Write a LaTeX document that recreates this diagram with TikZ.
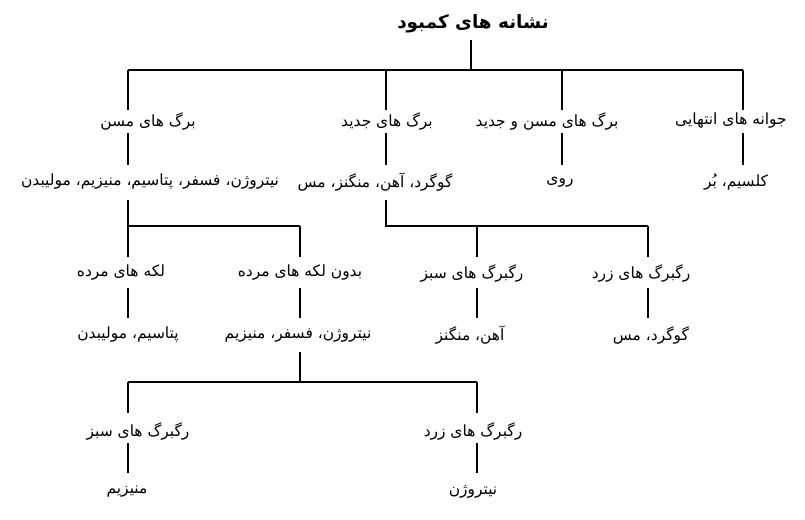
\documentclass[tikz,border=0pt]{standalone}
\usepackage{fontspec}
\TeXXeTstate=1
\newfontfamily\arabicfont[Script=Arabic]{DejaVu Sans}
\begin{document}
\begin{tikzpicture}[x=0.75pt,y=-0.75pt,
  lbl/.style={inner sep=0pt,font=\arabicfont\fontsize{11.6}{13}\selectfont},
  elem/.style={lbl},
  ttl/.style={inner sep=0pt,font=\arabicfont\bfseries\fontsize{13.8}{16}\selectfont},
  conn/.style={draw=black,line width=0.8pt}]
\useasboundingbox[fill=white] (0,0) rectangle (805,520);
% texts
\node[ttl] (title) at (473,24) {\beginR نشانه های کمبود\endR};
\node[lbl] (l1a) at (148,121) {\beginR برگ های مسن\endR};
\node[lbl] (l1b) at (387,121) {\beginR برگ های جدید\endR};
\node[lbl] (l1c) at (547,121) {\beginR برگ های مسن و جدید\endR};
\node[lbl] (l1d) at (731,121) {\beginR جوانه های انتهایی\endR};
\node[elem] (l2a) at (150,182) {\beginR نیتروژن، فسفر، پتاسیم، منیزیم، مولیبدن\endR};
\node[elem] (l2b) at (375,182) {\beginR گوگرد، آهن، منگنز، مس\endR};
\node[elem] (l2c) at (560,182) {\beginR روی\endR};
\node[elem] (l2d) at (736,182) {\beginR کلسیم، بُر\endR};
\node[lbl] (l3a) at (121,273) {\beginR لکه های مرده\endR};
\node[lbl] (l3b) at (300,273) {\beginR بدون لکه های مرده\endR};
\node[lbl] (l3c) at (472,273) {\beginR رگبرگ های سبز\endR};
\node[lbl] (l3d) at (641,273) {\beginR رگبرگ های زرد\endR};
\node[elem] (l4a) at (128,335) {\beginR پتاسیم، مولیبدن\endR};
\node[elem] (l4b) at (298,335) {\beginR نیتروژن، فسفر، منیزیم\endR};
\node[elem] (l4c) at (470,335) {\beginR آهن، منگنز\endR};
\node[elem] (l4d) at (651,335) {\beginR گوگرد، مس\endR};
\node[lbl] (l5a) at (138,431) {\beginR رگبرگ های سبز\endR};
\node[lbl] (l5b) at (473,431) {\beginR رگبرگ های زرد\endR};
\node[elem] (l6a) at (127,492) {\beginR منیزیم\endR};
\node[elem] (l6b) at (473,492) {\beginR نیتروژن\endR};
% connector end points
\coordinate (tA) at (471,40);  \coordinate (tB) at (471,70);
\coordinate (hL) at (128,70);  \coordinate (hR) at (743,70);
\foreach \n/\x in {a/128,b/386,c/562,d/743}{
  \coordinate (u1\n) at (\x,70);  \coordinate (d1\n) at (\x,110);
  \coordinate (u2\n) at (\x,133); \coordinate (d2\n) at (\x,165);}
\coordinate (s2a) at (128,200); \coordinate (j2a) at (128,226); \coordinate (e2a) at (300,226);
\coordinate (s2b) at (386,200); \coordinate (j2b) at (386,226); \coordinate (e2b) at (648,226);
\foreach \n/\x in {a/128,b/300,c/477,d/648}{
  \coordinate (u3\n) at (\x,226); \coordinate (d3\n) at (\x,257);
  \coordinate (u4\n) at (\x,288); \coordinate (d4\n) at (\x,318);}
\coordinate (s4b) at (300,352); \coordinate (j4b) at (300,382);
\coordinate (h4L) at (128,382); \coordinate (h4R) at (477,382);
\foreach \n/\x in {a/128,b/477}{
  \coordinate (u5\n) at (\x,382); \coordinate (d5\n) at (\x,413);
  \coordinate (u6\n) at (\x,443); \coordinate (d6\n) at (\x,473);}
% connectors
\draw[conn] (tA) -- (tB);
\draw[conn] (hL) -- (hR);
\foreach \n in {a,b,c,d}{
  \draw[conn] (u1\n) -- (d1\n);
  \draw[conn] (u2\n) -- (d2\n);}
\draw[conn] (s2a) -- (j2a) -- (e2a);
\draw[conn] (s2b) -- (j2b) -- (e2b);
\foreach \n in {a,b,c,d}{
  \draw[conn] (u3\n) -- (d3\n);
  \draw[conn] (u4\n) -- (d4\n);}
\draw[conn] (s4b) -- (j4b);
\draw[conn] (h4L) -- (h4R);
\foreach \n in {a,b}{
  \draw[conn] (u5\n) -- (d5\n);
  \draw[conn] (u6\n) -- (d6\n);}
\end{tikzpicture}
\end{document}
